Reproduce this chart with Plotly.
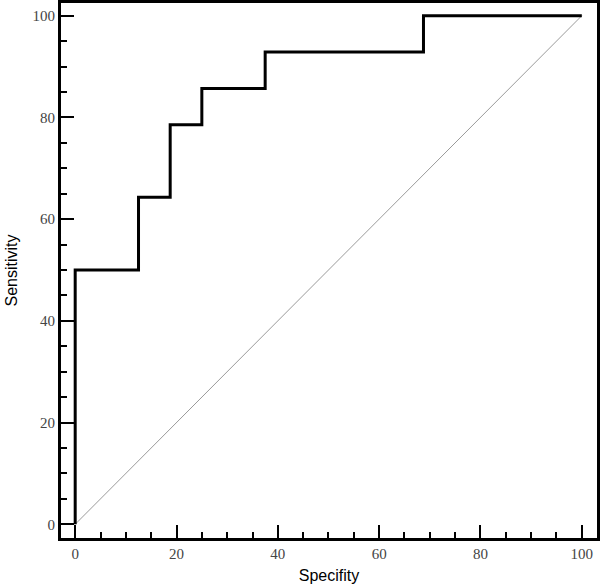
import plotly.graph_objects as go

# ROC curve points (specificity axis as drawn, sensitivity)
spec = [0, 0, 12.5, 12.5, 18.75, 18.75, 25, 25, 37.5, 37.5, 68.75, 68.75, 100]
sens = [0, 50, 50, 64.29, 64.29, 78.57, 78.57, 85.71, 85.71, 92.86, 92.86, 100, 100]

ref_x = [0, 100]
ref_y = [0, 100]

tick_vals = [0, 20, 40, 60, 80, 100]

fig = go.Figure()
fig.add_trace(go.Scatter(x=ref_x, y=ref_y, mode="lines",
                         line=dict(color="#9a9a9a", width=1), hoverinfo="skip"))
fig.add_trace(go.Scatter(x=spec, y=sens, mode="lines",
                         line=dict(color="#000000", width=3)))

axis_common = dict(
    showgrid=False, zeroline=False, automargin=False,
    showline=True, linecolor="#000000", linewidth=3, mirror=True,
    ticks="inside", ticklen=13, tickwidth=2, tickcolor="#000000",
    tickvals=tick_vals,
    tickfont=dict(family="Liberation Serif", size=15, color="#444444"),
    minor=dict(ticks="inside", ticklen=6, tickwidth=2, tickcolor="#000000", dtick=5, showgrid=False),
    title_font=dict(family="Liberation Sans", size=16, color="#000000"),
)

fig.update_xaxes(range=[-2.8, 103], title_text="Specifity", title_standoff=9, **axis_common)
fig.update_yaxes(range=[-2.7, 102.5], title_text="Sensitivity", title_standoff=11, **axis_common)

fig.update_layout(
    width=600, height=588,
    margin=dict(l=61, r=3, t=3, b=50),
    paper_bgcolor="#ffffff", plot_bgcolor="#ffffff",
    showlegend=False,
)

# drop the default body margin so the figure sits at the window corner
fig.write_html("out.html", config={"displayModeBar": False},
               post_script="document.body.style.margin='0';")
